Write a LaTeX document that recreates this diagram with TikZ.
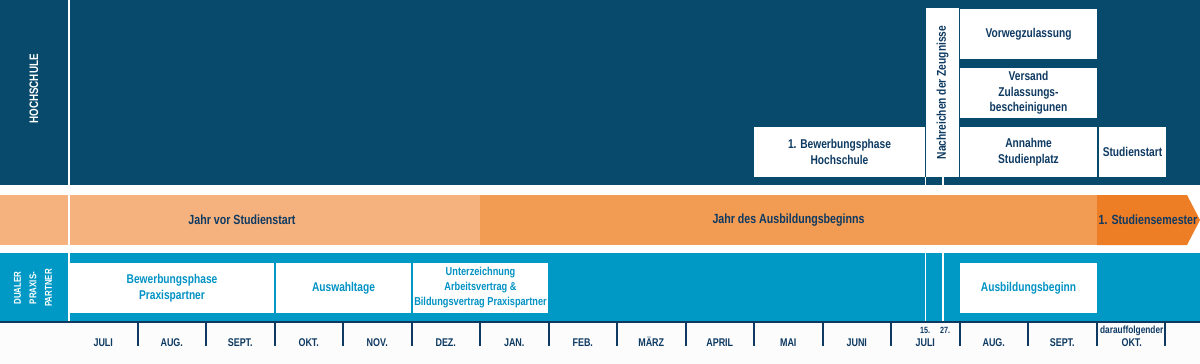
\documentclass[tikz,border=0pt]{standalone}
\usepackage{fontspec}
\newfontfamily\dinfont{Liberation Sans}[FakeStretch=0.8]
\definecolor{paper}{RGB}{252,252,252}
\definecolor{hsband}{RGB}{8,74,108}
\definecolor{ppband}{RGB}{0,153,198}
\definecolor{navy}{RGB}{14,58,98}
\definecolor{pptext}{RGB}{0,146,196}
\definecolor{jahrvor}{RGB}{246,178,126}
\definecolor{jahrdes}{RGB}{242,155,82}
\definecolor{semester}{RGB}{238,126,38}

\begin{document}
\begin{tikzpicture}[x=1pt, y=-1pt]
	\tikzset{hsbox/.style = {fill=white, text=navy, align=center, inner sep=0pt, font=\dinfont\bfseries\fontsize{12.75}{15.5}\selectfont}}
	\tikzset{ppbox/.style = {hsbox, text=pptext}}
	\tikzset{bandlabel/.style = {text=navy, inner sep=0pt, font=\dinfont\bfseries\fontsize{13.3}{15}\selectfont}}
	\tikzset{sidelabel/.style = {text=white, rotate=90, align=center, inner sep=0pt, font=\dinfont\bfseries\fontsize{9.9}{15.5}\selectfont}}
	\tikzset{monthlabel/.style = {text=navy, inner sep=0pt, anchor=base, font=\dinfont\bfseries\fontsize{11.2}{13}\selectfont}}
	\tikzset{tick/.style = {draw=navy, line width=2pt}}
	\tikzset{gapline/.style = {draw=white, line width=1.5pt}}
	\fill[white] (0,0) rectangle (1200,322);
	\fill[paper] (0,322) rectangle (1200,364);
	\useasboundingbox (0,0) rectangle (1200,364);
	% Baender
	\fill[hsband] (0,0) rectangle (1200,185);
	\fill[jahrvor] (0,195) rectangle (480,245);
	\fill[jahrdes] (480,195) rectangle (1097,245);
	\fill[semester] (1097,195) -- (1187,195) -- (1200,220) -- (1187,245) -- (1097,245) -- cycle;
	\fill[ppband] (0,253) rectangle (1200,321);
	\draw[gapline, line width=2pt] (69,0) -- (69,185) (69,195) -- (69,245) (69,253) -- (69,321);
	\draw[gapline] (925.5,177) -- (925.5,185) (943,177) -- (943,185);
	\draw[gapline] (925.5,253) -- (925.5,321) (943,253) -- (943,321);
	% Seitenbeschriftung
	\node[sidelabel, font=\dinfont\bfseries\fontsize{12.3}{13}\selectfont] (hs) at (34,89) {HOCHSCHULE};
	\node[sidelabel] (pp) at (33,288) {DUALER\\PRAXIS-\\PARTNER};
	% Hochschule
	\node[hsbox, minimum width=171pt, minimum height=50pt] (bwhs) at (839.5,152) {1. Bewerbungsphase\\Hochschule};
	\node[hsbox, rotate=90, minimum width=169pt, minimum height=33pt] (zeugnisse) at (942.5,92.5) {Nachreichen der Zeugnisse};
	\node[hsbox, minimum width=137pt, minimum height=50pt] (vorweg) at (1028.5,34) {Vorwegzulassung};
	\node[hsbox, minimum width=137pt, minimum height=50pt] (versand) at (1028.5,93) {Versand\\Zulassungs-\\bescheinigunen};
	\node[hsbox, minimum width=137pt, minimum height=50pt] (annahme) at (1028.5,152) {Annahme\\Studienplatz};
	\node[hsbox, minimum width=67pt, minimum height=50pt] (start) at (1132.5,152) {Studienstart};
	% Jahre
	\node[bandlabel] (lblvor) at (242,220) {Jahr vor Studienstart};
	\node[bandlabel] (lbldes) at (788.5,220) {Jahr des Ausbildungsbeginns};
	\node[bandlabel] (lblsem) at (1148,220) {1. Studiensemester};
	% Praxispartner
	\node[ppbox, minimum width=204pt, minimum height=50pt] (bwpp) at (172,288) {Bewerbungsphase\\Praxispartner};
	\node[ppbox, minimum width=135pt, minimum height=50pt] (auswahl) at (343.5,288) {Auswahltage};
	\node[ppbox, minimum width=135pt, minimum height=50pt, font=\dinfont\bfseries\fontsize{11.5}{15}\selectfont] (vertrag) at (480.5,288) {Unterzeichnung\\Arbeitsvertrag \&\\Bildungsvertrag Praxispartner};
	\node[ppbox, minimum width=137pt, minimum height=50pt] (ausbildung) at (1028.5,288) {Ausbildungsbeginn};
	% Zeitachse
	\draw[tick] (0,322) -- (1200,322);
	\foreach \k in {1,...,16}
		\draw[tick] ({69+68.5*\k},322) -- ++(0,24);
	\foreach \m [count=\k from 0] in {JULI,AUG.,SEPT.,OKT.,NOV.,DEZ.,JAN.,FEB.,MÄRZ,APRIL,MAI,JUNI,JULI,AUG.,SEPT.}
		\node[monthlabel] (month\k) at ({103.25+68.5*\k},346.5) {\m};
	\node[monthlabel] (month15) at (1131.75,346.5) {OKT.};
	\node[monthlabel, font=\dinfont\bfseries\fontsize{10.4}{11}\selectfont] (folgend) at (1131.75,333.5) {darauffolgender};
	\node[monthlabel, font=\dinfont\bfseries\fontsize{9}{10}\selectfont] (tag15) at (925,333.3) {15.};
	\node[monthlabel, font=\dinfont\bfseries\fontsize{9}{10}\selectfont] (tag27) at (945,333.3) {27.};
\end{tikzpicture}
\end{document}
